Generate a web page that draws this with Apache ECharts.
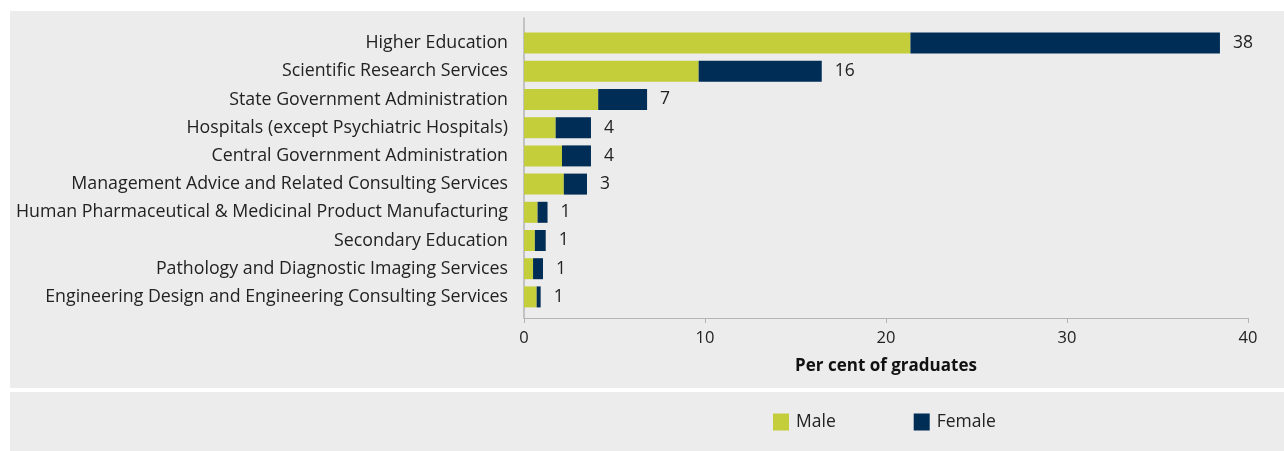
<!DOCTYPE html>
<html>
<head>
<meta charset="utf-8">
<script src="https://cdn.jsdelivr.net/npm/echarts@6/dist/echarts.min.js"></script>
<style>
  html, body { margin: 0; padding: 0; background: #ffffff; }
  .panel { position: absolute; left: 10px; right: 0; background: #ececec; }
  #panelTop { top: 11px; height: 377px; }
  #panelLegend { top: 392px; bottom: 0; }
  #chart { position: absolute; left: 0; top: 0; width: 1284px; height: 451px; }
</style>
</head>
<body>
<div class="panel" id="panelTop"></div>
<div class="panel" id="panelLegend"></div>
<div id="chart"></div>
<script>
// Industries employing graduates, largest first
const industries = [
  'Higher Education',
  'Scientific Research Services',
  'State Government Administration',
  'Hospitals (except Psychiatric Hospitals)',
  'Central Government Administration',
  'Management Advice and Related Consulting Services',
  'Human Pharmaceutical & Medicinal Product Manufacturing',
  'Secondary Education',
  'Pathology and Diagnostic Imaging Services',
  'Engineering Design and Engineering Consulting Services'
];

// Per cent of graduates by sex
const maleShare   = [21.35, 9.65, 4.1, 1.75, 2.1, 2.2, 0.75, 0.6, 0.5, 0.7];
const femaleShare = [17.1, 6.8, 2.7, 1.95, 1.6, 1.28, 0.55, 0.6, 0.55, 0.22];

// Axis ticks
const axisMin = 0;
const axisMax = 40;
const axisStep = 10;

const FONT = '"Open Sans", "Noto Sans", sans-serif';
const MALE_COLOR = '#c4cd3a';
const FEMALE_COLOR = '#002d56';
const AXIS_COLOR = '#b4b4b4';
const TEXT_COLOR = '#222222';

const chart = echarts.init(document.getElementById('chart'), null, { renderer: 'canvas' });

chart.setOption({
  animation: false,
  textStyle: { fontFamily: FONT },
  legend: {
    data: ['Male', 'Female'],
    left: 768,
    top: 408,
    itemWidth: 16,
    itemHeight: 17,
    itemGap: 78,
    icon: 'rect',
    textStyle: { fontFamily: FONT, fontSize: 17.5, color: TEXT_COLOR, padding: [0, 0, 0, 2] }
  },
  grid: [
    // bars
    { left: 524, right: 36, top: 29, bottom: 140 },
    // axis frame
    { left: 524, right: 36, top: 18, bottom: 133 }
  ],
  xAxis: [
    {
      gridIndex: 0, type: 'value', min: axisMin, max: axisMax, interval: axisStep,
      show: false
    },
    {
      gridIndex: 1, type: 'value', min: axisMin, max: axisMax, interval: axisStep,
      axisLine: { show: true, lineStyle: { color: AXIS_COLOR, width: 1 } },
      axisTick: { show: true, length: 5, lineStyle: { color: AXIS_COLOR } },
      splitLine: { show: false },
      axisLabel: { fontFamily: FONT, fontSize: 16.5, color: TEXT_COLOR, margin: 12 },
      name: 'Per cent of graduates',
      nameLocation: 'middle',
      nameGap: 40,
      nameTextStyle: { fontFamily: FONT, fontSize: 17, fontWeight: 'bold', color: '#111111' }
    }
  ],
  yAxis: [
    {
      gridIndex: 0, type: 'category', data: industries, inverse: true,
      axisLine: { show: false },
      axisTick: { show: false },
      axisLabel: { fontFamily: FONT, fontSize: 17.8, color: TEXT_COLOR, margin: 16 }
    },
    {
      gridIndex: 1, type: 'value', min: 0, max: 1,
      axisLine: { show: true, lineStyle: { color: AXIS_COLOR, width: 1.5 } },
      axisTick: { show: false },
      axisLabel: { show: false },
      splitLine: { show: false }
    }
  ],
  series: [
    {
      name: 'Male', type: 'bar', stack: 'sex',
      xAxisIndex: 0, yAxisIndex: 0,
      data: maleShare,
      barWidth: 21,
      itemStyle: { color: MALE_COLOR }
    },
    {
      name: 'Female', type: 'bar', stack: 'sex',
      xAxisIndex: 0, yAxisIndex: 0,
      data: femaleShare,
      barWidth: 21,
      itemStyle: { color: FEMALE_COLOR },
      label: {
        show: true,
        position: 'right',
        distance: 13,
        fontFamily: FONT,
        fontSize: 17.5,
        color: TEXT_COLOR,
        formatter: p => String(Math.round(maleShare[p.dataIndex] + femaleShare[p.dataIndex]))
      }
    }
  ]
});
</script>
</body>
</html>
